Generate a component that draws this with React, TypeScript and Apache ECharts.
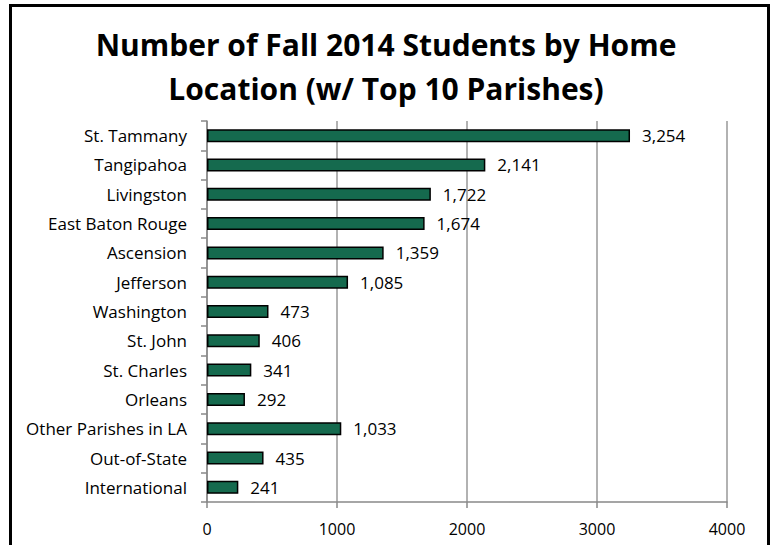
import React, { useEffect, useRef } from "react";
import * as echarts from "echarts";

const categories = [
  "St. Tammany",
  "Tangipahoa",
  "Livingston",
  "East Baton Rouge",
  "Ascension",
  "Jefferson",
  "Washington",
  "St. John",
  "St. Charles",
  "Orleans",
  "Other Parishes in LA",
  "Out-of-State",
  "International",
];
const values = [3254, 2141, 1722, 1674, 1359, 1085, 473, 406, 341, 292, 1033, 435, 241];
const titleLines = ["Number of Fall 2014 Students by Home", "Location (w/ Top 10 Parishes)"];

const FONT = "Open Sans, Noto Sans, sans-serif";

export default function App() {
  const ref = useRef<HTMLDivElement>(null);
  useEffect(() => {
    if (!ref.current) return;
    const chart = echarts.init(ref.current, undefined, { renderer: "svg" });
    chart.setOption({
      animation: false,
      backgroundColor: "#ffffff",
      title: {
        text: titleLines.join("\n"),
        left: "center",
        top: 17,
        textStyle: {
          fontFamily: FONT,
          fontWeight: "bold",
          fontSize: 30,
          lineHeight: 44,
          color: "#000",
        },
      },
      grid: { left: 207, right: 45, top: 121, bottom: 43, containLabel: false },
      xAxis: {
        type: "value",
        min: 0,
        max: 4000,
        interval: 1000,
        axisLine: { show: true, lineStyle: { color: "#888", width: 1.5 } },
        axisTick: { show: true, length: 6, lineStyle: { color: "#888", width: 1.5 } },
        splitLine: { show: true, lineStyle: { color: "#999", width: 1.5 } },
        axisLabel: {
          fontFamily: FONT,
          fontSize: 16,
          color: "#000",
          margin: 19,
          formatter: (v: number) => String(v),
        },
      },
      yAxis: {
        type: "category",
        inverse: true,
        data: categories,
        axisLine: { show: true, lineStyle: { color: "#888", width: 1.5 } },
        axisTick: { show: true, length: 6, lineStyle: { color: "#888", width: 1.5 } },
        axisLabel: { fontFamily: FONT, fontSize: 17, color: "#000", margin: 20 },
      },
      series: [
        {
          type: "bar",
          data: values,
          barWidth: 13,
          itemStyle: { color: "#156a4e", borderColor: "#000", borderWidth: 1.5 },
          label: {
            show: true,
            position: "right",
            distance: 12,
            fontFamily: FONT,
            fontSize: 17,
            color: "#000",
            formatter: (p: any) => Number(p.value).toLocaleString("en-US"),
          },
        },
      ],
      graphic: [
        {
          type: "rect",
          shape: { x: 10.5, y: 5.5, width: 758, height: 600 },
          style: { fill: "none", stroke: "#000", lineWidth: 3 },
          silent: true,
        },
      ],
    });
    return () => chart.dispose();
  }, []);
  return (
    <div
      ref={ref}
      style={{ position: "fixed", left: 0, top: 0, width: 772, height: 545 }}
    />
  );
}
